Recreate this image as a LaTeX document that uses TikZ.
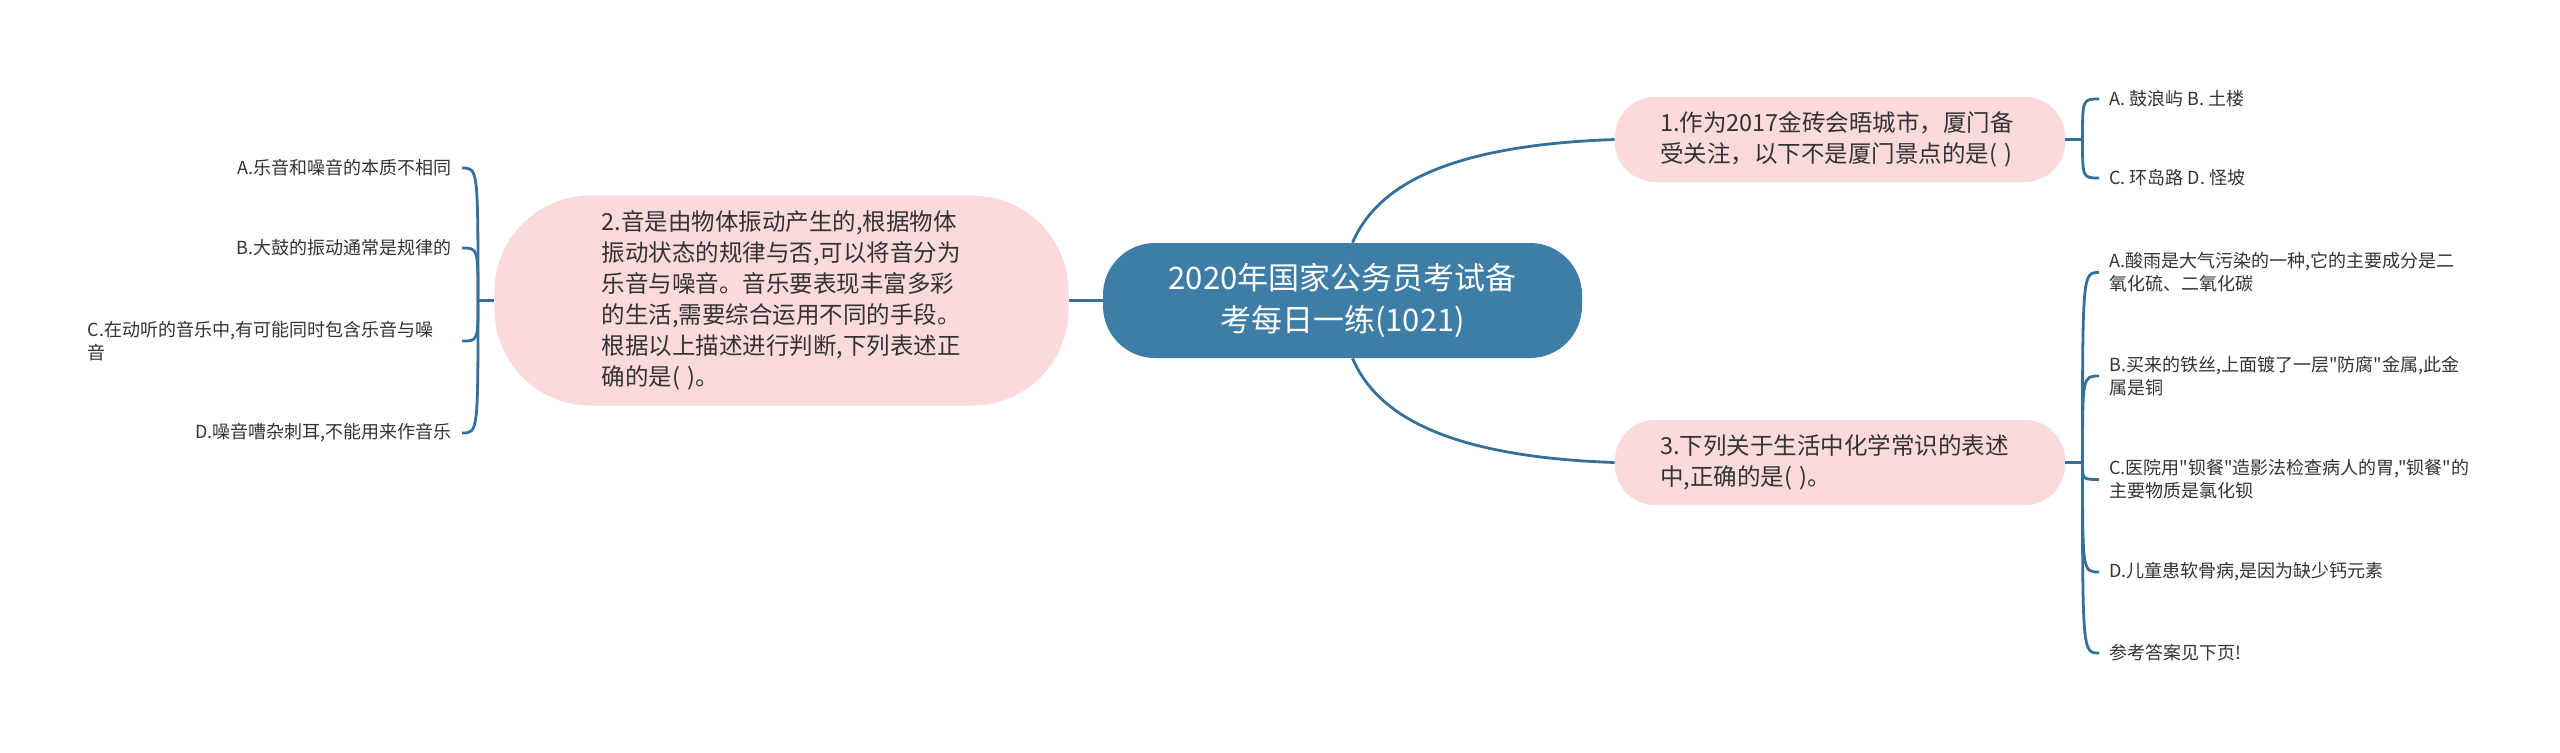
\documentclass[tikz,border=0pt]{standalone}
\usepackage{fontspec}
\setmainfont[Ligatures=TeXOff]{Noto Sans CJK SC}
\usepackage{tikz}
\usetikzlibrary{positioning}
\usepackage{xcolor}
\definecolor{rootblue}{HTML}{3E7EA6}
\definecolor{linkblue}{HTML}{35709A}
\definecolor{topicpink}{HTML}{FADADA}
\definecolor{textgray}{HTML}{333333}

\begin{document}
\begin{tikzpicture}[
  x=0.5pt, y=-0.5pt,
  root/.style={
    rectangle,
    fill=rootblue,
    text=white,
    align=center,
    rounded corners=26pt,
    minimum width=239.5pt,
    minimum height=57.5pt,
    inner sep=0pt,
    font=\fontsize{15.5}{21}\selectfont
  },
  topic/.style={
    rectangle,
    fill=topicpink,
    text=textgray,
    text width=180pt,
    align=left,
    rounded corners=20pt,
    minimum width=225pt,
    minimum height=42.5pt,
    inner sep=0pt,
    font=\fontsize{11.75}{15.5}\selectfont
  },
  leaf/.style={text=textgray, inner sep=0pt, font=\fontsize{9}{11.5}\selectfont},
  branch/.style={draw=linkblue, line width=1.4pt}
]

  \useasboundingbox (0,0) rectangle (2560,752);

  % Nodes
  \node (R) [root] at (1342.5,300.5) {2020年国家公务员考试备\\考每日一练(1021)};

  \node (Q1) [topic] at (1840,139.5) {1.作为2017金砖会晤城市，厦门备\\受关注，以下不是厦门景点的是( )};
  \node (Q2) [topic, minimum width=287pt, minimum height=105pt, rounded corners=48pt] at (781.5,300.5)
    {2.音是由物体振动产生的,根据物体\\振动状态的规律与否,可以将音分为\\乐音与噪音。音乐要表现丰富多彩\\的生活,需要综合运用不同的手段。\\根据以上描述进行判断,下列表述正\\确的是( )。};
  \node (Q3) [topic] at (1840,462.5) {3.下列关于生活中化学常识的表述\\中,正确的是( )。};

  \node (Q1a) [leaf, anchor=west] at (2109,99) {A. 鼓浪屿 B. 土楼};
  \node (Q1b) [leaf, anchor=west] at (2109,178) {C. 环岛路 D. 怪坡};

  \node (Q2a) [leaf, anchor=east] at (452,168) {A.乐音和噪音的本质不相同};
  \node (Q2b) [leaf, anchor=east] at (452,248) {B.大鼓的振动通常是规律的};
  \node (Q2c) [leaf, anchor=east, text width=182pt, align=left] at (452,341) {C.在动听的音乐中,有可能同时包含乐音与噪\\音};
  \node (Q2d) [leaf, anchor=east] at (452,433) {D.噪音嘈杂刺耳,不能用来作音乐};

  \node (Q3a) [leaf, anchor=west, align=left] at (2109,272.5) {A.酸雨是大气污染的一种,它的主要成分是二\\氧化硫、二氧化碳};
  \node (Q3b) [leaf, anchor=west, align=left] at (2109,376) {B.买来的铁丝,上面镀了一层"防腐"金属,此金\\属是铜};
  \node (Q3c) [leaf, anchor=west, align=left] at (2109,479.5) {C.医院用"钡餐"造影法检查病人的胃,"钡餐"的\\主要物质是氯化钡};
  \node (Q3d) [leaf, anchor=west] at (2109,572) {D.儿童患软骨病,是因为缺少钙元素};
  \node (Q3e) [leaf, anchor=west] at (2109,653) {参考答案见下页!};

  \coordinate (J1) at (2082.5,139.5);
  \coordinate (J2) at (478,300.5);
  \coordinate (J3) at (2082.5,462.5);

  % Branches
  \draw [branch] (R.west) -- (Q2.east);
  \draw [branch] ([xshift=5pt]R.north) .. controls +(23,-53) and +(-175,6) .. (Q1.west);
  \draw [branch] ([xshift=5pt]R.south) .. controls +(23,53) and +(-175,-6) .. (Q3.west);

  \draw [branch] (Q1.east) -- (J1);
  \draw [branch] (J1) .. controls (J1 |- Q1a.west) .. ([xshift=-5pt]Q1a.west);
  \draw [branch] (J1) .. controls (J1 |- Q1b.west) .. ([xshift=-5pt]Q1b.west);

  \draw [branch] (Q2.west) -- (J2);
  \draw [branch] (J2) .. controls (J2 |- Q2a.east) .. ([xshift=5pt]Q2a.east);
  \draw [branch] (J2) .. controls (J2 |- Q2b.east) .. ([xshift=5pt]Q2b.east);
  \draw [branch] (J2) .. controls (J2 |- Q2c.east) .. ([xshift=5pt]Q2c.east);
  \draw [branch] (J2) .. controls (J2 |- Q2d.east) .. ([xshift=5pt]Q2d.east);

  \draw [branch] (Q3.east) -- (J3);
  \draw [branch] (J3) .. controls (J3 |- Q3a.west) .. ([xshift=-5pt]Q3a.west);
  \draw [branch] (J3) .. controls (J3 |- Q3b.west) .. ([xshift=-5pt]Q3b.west);
  \draw [branch] (J3) .. controls (J3 |- Q3c.west) .. ([xshift=-5pt]Q3c.west);
  \draw [branch] (J3) .. controls (J3 |- Q3d.west) .. ([xshift=-5pt]Q3d.west);
  \draw [branch] (J3) .. controls (J3 |- Q3e.west) .. ([xshift=-5pt]Q3e.west);

\end{tikzpicture}
\end{document}
